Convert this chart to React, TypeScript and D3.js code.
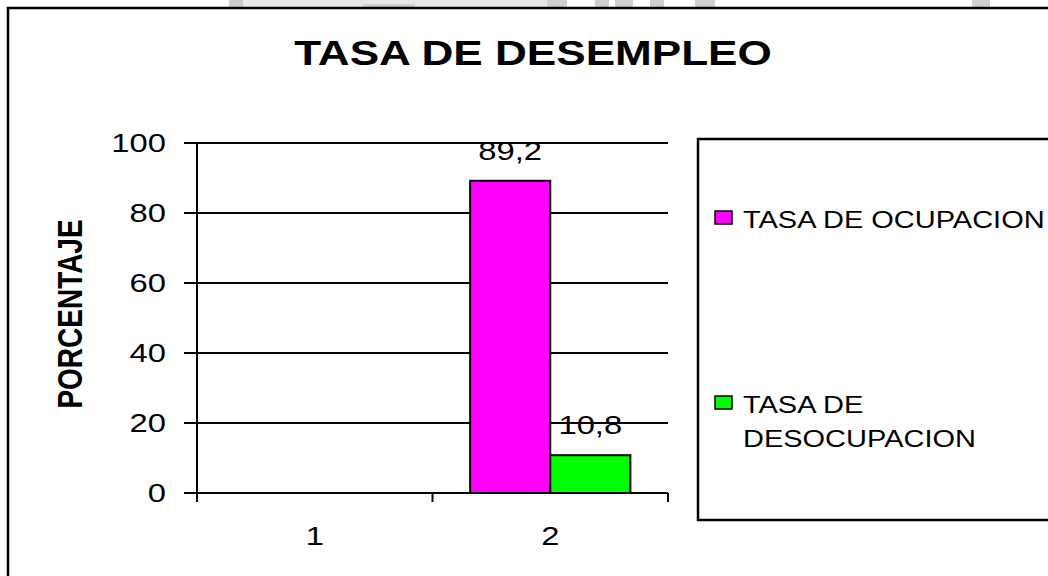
import React, { useEffect } from 'react';
import * as d3 from 'd3';

// datos
const categories = ['1', '2'];
const seriesNames = ['TASA DE OCUPACION', 'TASA DE DESOCUPACION'];
const legendLines = [['TASA DE OCUPACION'], ['TASA DE', 'DESOCUPACION']];
const seriesColors = ['#ff00ff', '#00ff00'];
const ocupacion: (number | null)[] = [null, 89.2];
const desocupacion: (number | null)[] = [null, 10.8];
const yTicks = [0, 20, 40, 60, 80, 100];
const title = 'TASA DE DESEMPLEO';
const yTitle = 'PORCENTAJE';

const width = 1048;
const height = 576;
const font = "'Liberation Sans', Arial, sans-serif";
const sx = 1.26; // la imagen original está estirada en horizontal

// recortes grises de la marca de agua en el borde superior: [x, ancho, y, alto, color]
const watermark = [
  [229, 14, 0, 7, '#cccccc'], [243, 306, 0, 7, '#e8e8e8'], [363, 52, 4, 3, '#d0d0d0'],
  [547, 20, 0, 7, '#d0d0d0'], [595, 14, 0, 7, '#d0d0d0'], [615, 18, 0, 7, '#d0d0d0'],
  [650, 14, 0, 7, '#d0d0d0'], [695, 20, 0, 7, '#d0d0d0'], [972, 18, 0, 7, '#d0d0d0'],
] as const;

const App = () => {
  useEffect(() => {
    document.body.style.margin = '0';
  }, []);

  const x0 = d3.scaleBand<string>().domain(categories).range([197, 668]);
  const x1 = d3.scaleBand<string>().domain(seriesNames).range([0, x0.bandwidth()]).paddingOuter(0.47);
  const y = d3.scaleLinear().domain([0, 100]).range([493, 143]);

  const values = [ocupacion, desocupacion];
  const bars = categories.flatMap((c, i) =>
    seriesNames.map((s, j) => ({ c, s, v: values[j][i], color: seriesColors[j] }))
  ).filter(d => d.v != null) as { c: string; s: string; v: number; color: string }[];

  const [xl, xr] = x0.range();

  return (
    <svg width={width} height={height} style={{ display: 'block', background: '#fff' }}>
      {watermark.map(([wx, ww, wy, wh, col], i) => (
        <rect key={i} x={wx} y={wy} width={ww} height={wh} fill={col} />
      ))}
      <rect x={8} y={8} width={1200} height={700} fill="none" stroke="#000" strokeWidth={2.5} />

      <text transform={`translate(533,65) scale(${sx},1)`} textAnchor="middle"
        fontFamily={font} fontWeight="bold" fontSize={35}>{title}</text>

      <text transform={`translate(82,314) scale(${sx},1) rotate(-90)`} textAnchor="middle"
        fontFamily={font} fontWeight="bold" fontSize={28}>{yTitle}</text>

      {yTicks.map(t => (
        <g key={t}>
          <line x1={184} x2={xr} y1={y(t)} y2={y(t)} stroke="#000" strokeWidth={2} />
          <text transform={`translate(166,${y(t) + 9}) scale(${sx},1)`} textAnchor="end"
            fontFamily={font} fontSize={26}>{t}</text>
        </g>
      ))}
      <line x1={xl} x2={xl} y1={y(100)} y2={502} stroke="#000" strokeWidth={2} />
      {[...categories.map(c => x0(c)!), xr].map((tx, i) => (
        <line key={i} x1={tx} x2={tx} y1={y(0)} y2={502} stroke="#000" strokeWidth={2} />
      ))}
      {categories.map(c => (
        <text key={c} transform={`translate(${x0(c)! + x0.bandwidth() / 2},545) scale(${sx},1)`}
          textAnchor="middle" fontFamily={font} fontSize={26}>{c}</text>
      ))}

      {bars.map(d => (
        <g key={d.c + d.s}>
          <rect x={x0(d.c)! + x1(d.s)!} y={y(d.v)} width={x1.bandwidth()} height={y(0) - y(d.v)}
            fill={d.color} stroke="#000" strokeWidth={2} />
          <text transform={`translate(${x0(d.c)! + x1(d.s)! + x1.bandwidth() / 2},${y(d.v) - 21}) scale(${sx},1)`}
            textAnchor="middle" fontFamily={font} fontSize={26}>{String(d.v).replace('.', ',')}</text>
        </g>
      ))}

      <rect x={698} y={139} width={500} height={381} fill="#fff" stroke="#000" strokeWidth={2.5} />
      {seriesNames.map((s, i) => {
        const top = i === 0 ? 211 : 396;
        return (
          <g key={s}>
            <rect x={715} y={top} width={17} height={13} fill={seriesColors[i]} stroke="#000" strokeWidth={1.5} />
            {legendLines[i].map((ln, k) => (
              <text key={k} transform={`translate(743,${top + 17 + k * 34}) scale(${sx},1)`}
                fontFamily={font} fontSize={23}>{ln}</text>
            ))}
          </g>
        );
      })}
    </svg>
  );
};

export default App;
